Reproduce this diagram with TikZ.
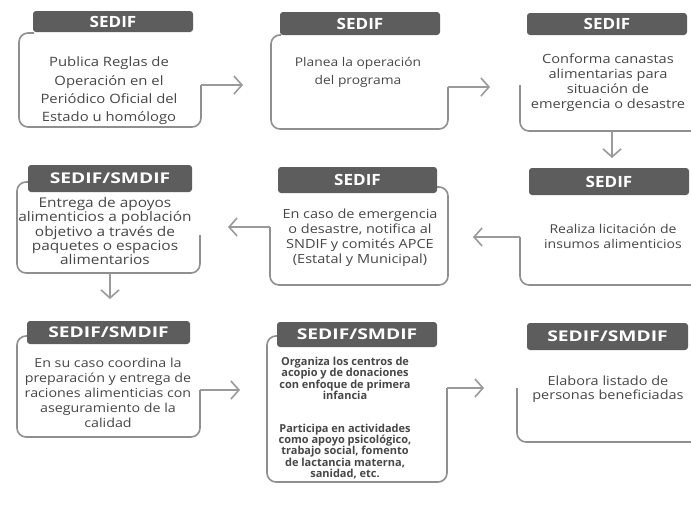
\documentclass[tikz,border=0pt]{standalone}
\usepackage{fontspec}
\usetikzlibrary{arrows.meta}
\setmainfont{Open Sans}
\newfontfamily\bodyfont{Open Sans}[FakeStretch=1.15]
\newfontfamily\plainfont{Open Sans}
\newfontfamily\hdrA{Open Sans}[FakeStretch=1.1]
\newfontfamily\hdrB{Open Sans}[FakeStretch=1.3]
\definecolor{hdrgray}{HTML}{5D5D5D}
\definecolor{boxline}{HTML}{8F8F8F}
\definecolor{arrgray}{HTML}{9A9A9A}
\definecolor{txtgray}{HTML}{474747}
\tikzset{
  hdr/.style={fill=hdrgray, rounded corners=3pt, minimum width=160pt, minimum height=23pt, text=white, inner sep=0pt},
  hsedif/.style={hdr, font=\hdrA\fontsize{15.5}{16}\selectfont\bfseries},
  hsmdif/.style={hdr, font=\hdrB\fontsize{14.8}{16}\selectfont\bfseries},
  txt/.style={align=center, text=txtgray, inner sep=0pt},
  body/.style={draw=boxline, line width=1.6pt, rounded corners=9pt},
  conn/.style={draw=arrgray, line width=1.6pt, -{Straight Barb[length=8pt,width=18pt,line width=1.6pt]}}
}
\begin{document}
\begin{tikzpicture}[x=1pt,y=-1pt]
\useasboundingbox (0,0) rectangle (691,514);
\fill[white] (0,0) rectangle (691,514);
% ---------- Row 1 ----------
\coordinate (o1) at (201,85);
\coordinate (e1) at (243,85);
\draw[body] (34,33) -| (19,127) -| (o1);
\node[hsedif, minimum height=21pt] (h1) at (113,21.5) {SEDIF};
\node[txt, font=\bodyfont\fontsize{12.9}{18.3}\selectfont] (t1) at (109,91)
  {Publica Reglas de\\Operación en el\\Periódico Oficial del\\Estado u homólogo};
\draw[conn] (o1) -- (e1);

\coordinate (o2) at (448,87);
\coordinate (e2) at (490,87);
\draw[body] (281,35) -| (271,129) -| (o2);
\node[hsedif] (h2) at (360,23.5) {SEDIF};
\node[txt, font=\bodyfont\fontsize{12}{18.3}\selectfont] (t2) at (358,72)
  {Planea la operación\\del programa};
\draw[conn] (o2) -- (e2);

\coordinate (o3) at (612,131);
\coordinate (e3) at (612,158);
\draw[body] (520,85) |- (691,131);
\node[hsedif, minimum height=22pt] (h3) at (607,24) {SEDIF};
\node[txt, font=\bodyfont\fontsize{12.7}{15}\selectfont] (t3) at (608,83)
  {Conforma canastas\\alimentarias para\\situación de\\emergencia o desastre};
\draw[conn] (o3) -- (e3);

% ---------- Row 2 ----------
\coordinate (o6) at (520,237);
\coordinate (e6) at (473,237);
\draw[body] (o6) |- (691,285);
\node[hsedif, minimum height=27pt] (h6) at (609,181.5) {SEDIF};
\node[txt, font=\bodyfont\fontsize{12.2}{15}\selectfont] (t6) at (613,236)
  {Realiza licitación de\\insumos alimenticios};
\draw[conn] (o6) -- (e6);

\coordinate (o5) at (270,227);
\coordinate (e5) at (228,227);
\draw[body] (437,187) -| (448,285) -| (o5);
\node[hsedif, minimum width=159pt, minimum height=26pt] (h5) at (357.5,180) {SEDIF};
\node[txt, font=\bodyfont\fontsize{12.6}{15}\selectfont] (t5) at (360,238)
  {En caso de emergencia\\o desastre, notifica al\\SNDIF y comités APCE\\(Estatal y Municipal)};
\draw[conn] (o5) -- (e5);

\coordinate (o4) at (110,273);
\coordinate (e4) at (110,299);
\draw[body] (30,182) -| (17,273) -| (200,235);
\node[hsmdif, minimum width=164pt, minimum height=27pt] (h4) at (110,178.5) {SEDIF/SMDIF};
\node[txt, font=\bodyfont\fontsize{13.4}{14.3}\selectfont] (t4) at (105,231)
  {Entrega de apoyos\\alimenticios a población\\objetivo a través de\\paquetes o espacios\\alimentarios};
\draw[conn] (o4) -- (e4);

% ---------- Row 3 ----------
\coordinate (o7) at (200,390);
\coordinate (e7) at (240,390);
\draw[body] (28,336) -| (17,437) -| (o7);
\node[hsmdif, minimum width=163pt, minimum height=23pt] (h7) at (108.5,332.5) {SEDIF/SMDIF};
\node[txt, font=\bodyfont\fontsize{12.4}{15}\selectfont] (t7) at (108,393)
  {En su caso coordina la\\preparación y entrega de\\raciones alimenticias con\\aseguramiento de la\\calidad};
\draw[conn] (o7) -- (e7);

\coordinate (o8) at (447,388);
\coordinate (e8) at (484,388);
\draw[body] (277,336) -| (267,482) -| (o8);
\node[hsmdif, minimum height=25pt] (h8) at (357,334.5) {SEDIF/SMDIF};
\node[txt, font=\plainfont\fontsize{11}{11.2}\selectfont\bfseries] (t8) at (345,418)
  {Organiza los centros de\\acopio y de donaciones\\con enfoque de primera\\infancia\\[22pt]Participa en actividades\\como apoyo psicológico,\\trabajo social, fomento\\de lactancia materna,\\sanidad, etc.};
\draw[conn] (o8) -- (e8);

\draw[body] (517,388) |- (691,442);
\node[hsmdif, minimum width=161pt, minimum height=27pt] (h9) at (607.5,336.5) {SEDIF/SMDIF};
\node[txt, font=\bodyfont\fontsize{12.6}{13.5}\selectfont] (t9) at (608,389)
  {Elabora listado de\\personas beneficiadas};
\end{tikzpicture}
\end{document}
